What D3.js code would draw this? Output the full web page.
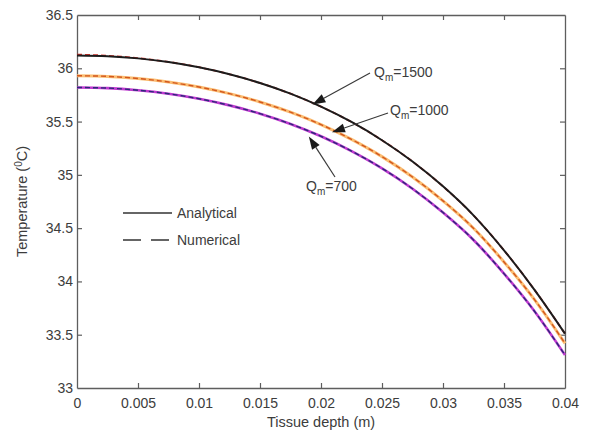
<!DOCTYPE html>
<html>
<head>
<meta charset="utf-8">
<script src="https://cdn.jsdelivr.net/npm/d3@7/dist/d3.min.js"></script>
<style>
  html, body { margin: 0; padding: 0; background: #fff; }
  svg { display: block; }
  text { font-family: "Liberation Sans", Arial, sans-serif; fill: #3c3c3c; }
</style>
</head>
<body>
<svg id="chart" width="594" height="433"></svg>
<script>
// Tissue depth (m)
const depth = [0, 0.0025, 0.005, 0.0075, 0.01, 0.0125, 0.015, 0.0175, 0.02,
               0.0225, 0.025, 0.0275, 0.03, 0.0325, 0.035, 0.0375, 0.04];

// Analytical temperature profiles (°C)
const analytical1500 = [36.120, 36.113, 36.093, 36.059, 36.009, 35.944, 35.862, 35.762, 35.640,
                        35.496, 35.325, 35.125, 34.892, 34.620, 34.292, 33.921, 33.510];
const analytical1000 = [35.930, 35.924, 35.904, 35.871, 35.824, 35.762, 35.684, 35.588, 35.472,
                        35.333, 35.171, 34.980, 34.756, 34.499, 34.183, 33.830, 33.419];
const analytical700  = [35.820, 35.814, 35.794, 35.761, 35.714, 35.652, 35.574, 35.478, 35.362,
                        35.223, 35.061, 34.870, 34.646, 34.389, 34.073, 33.720, 33.309];

// Numerical temperature profiles (°C)
const numerical1500 = [36.128, 36.118, 36.095, 36.060, 36.010, 35.944, 35.862, 35.762, 35.640,
                       35.496, 35.325, 35.125, 34.892, 34.620, 34.292, 33.921, 33.510];
const numerical1000 = [35.930, 35.924, 35.904, 35.871, 35.824, 35.762, 35.684, 35.588, 35.472,
                       35.333, 35.171, 34.980, 34.756, 34.499, 34.183, 33.830, 33.419];
const numerical700  = [35.820, 35.814, 35.794, 35.761, 35.714, 35.652, 35.574, 35.478, 35.362,
                       35.223, 35.061, 34.870, 34.646, 34.389, 34.073, 33.720, 33.309];

const xTicks = [0, 0.005, 0.01, 0.015, 0.02, 0.025, 0.03, 0.035, 0.04];
const yTicks = [33, 33.5, 34, 34.5, 35, 35.5, 36, 36.5];

// Labelled arrows: metabolic heat value, point on curve, label anchor
const annoQ     = ["1500", "1000", "700"];
const annoDepth = [0.0193, 0.0209, 0.0190];
const annoTemp  = [35.66, 35.40, 35.36];

const svg = d3.select("#chart");
const margin = { left: 77, right: 29, top: 15, bottom: 45 };
const W = 594, H = 433;

const x = d3.scaleLinear().domain([0, 0.04]).range([margin.left, W - margin.right]);
const y = d3.scaleLinear().domain([33, 36.5]).range([H - margin.bottom, margin.top]);

const axisColor = "#5e5e5e";
const fmt = d => String(d);

// Frame axes with inward ticks
const gB = svg.append("g").attr("transform", `translate(0,${y(33)})`)
  .call(d3.axisBottom(x).tickValues(xTicks).tickSizeInner(-5).tickSizeOuter(0).tickPadding(10).tickFormat(fmt));
const gT = svg.append("g").attr("transform", `translate(0,${y(36.5)})`)
  .call(d3.axisTop(x).tickValues(xTicks).tickSizeInner(-5).tickSizeOuter(0).tickFormat(""));
const gL = svg.append("g").attr("transform", `translate(${x(0)},0)`)
  .call(d3.axisLeft(y).tickValues(yTicks).tickSizeInner(-5).tickSizeOuter(0).tickPadding(4).tickFormat(fmt));
const gR = svg.append("g").attr("transform", `translate(${x(0.04)},0)`)
  .call(d3.axisRight(y).tickValues(yTicks).tickSizeInner(-5).tickSizeOuter(0).tickFormat(""));

[gB, gT, gL, gR].forEach(g => {
  g.select(".domain").attr("stroke", axisColor).attr("stroke-width", 1.3);
  g.selectAll(".tick line").attr("stroke", axisColor).attr("stroke-width", 1.2);
  g.selectAll(".tick text").attr("font-size", 14).attr("fill", "#4a4a4a")
    .style("font-family", "'Liberation Sans', Arial, sans-serif");
});
// Hide the zero tick marks that would sit on the corners
gB.selectAll(".tick line").filter(d => d === 0 || d === 0.04).remove();
gT.selectAll(".tick line").filter(d => d === 0 || d === 0.04).remove();
gL.selectAll(".tick line").filter(d => d === 33 || d === 36.5).remove();
gR.selectAll(".tick line").filter(d => d === 33 || d === 36.5).remove();

const line = d3.line().x((d, i) => x(depth[i])).y(d => y(d)).curve(d3.curveMonotoneX);

const plot = svg.append("g");

// Qm = 1500
plot.append("path").datum(numerical1500).attr("d", line).attr("fill", "none")
  .attr("stroke", "#d8312a").attr("stroke-width", 1.8).attr("stroke-dasharray", "5,3");
plot.append("path").datum(analytical1500).attr("d", line).attr("fill", "none")
  .attr("stroke", "#1c1c1c").attr("stroke-width", 2);

// Qm = 1000
plot.append("path").datum(analytical1000).attr("d", line).attr("fill", "none")
  .attr("stroke", "#fbbd72").attr("stroke-width", 3);
plot.append("path").datum(numerical1000).attr("d", line).attr("fill", "none")
  .attr("stroke", "#d2571e").attr("stroke-width", 1.4).attr("stroke-dasharray", "5,3");

// Qm = 700
plot.append("path").datum(analytical700).attr("d", line).attr("fill", "none")
  .attr("stroke", "#c03ad0").attr("stroke-width", 2.6);
plot.append("path").datum(numerical700).attr("d", line).attr("fill", "none")
  .attr("stroke", "#2b2a7a").attr("stroke-width", 1.4).attr("stroke-dasharray", "5,3");

// Axis titles
svg.append("text").attr("x", x(0.02)).attr("y", 427).attr("text-anchor", "middle")
  .attr("font-size", 14.5).text("Tissue depth (m)");

const yl = svg.append("text").attr("transform", `translate(27,${y(34.75)}) rotate(-90)`)
  .attr("text-anchor", "middle").attr("font-size", 14.5);
yl.append("tspan").text("Temperature (");
yl.append("tspan").attr("font-size", 10).attr("dy", -5).text("0");
yl.append("tspan").attr("dy", 5).text("C)");

// Legend
const legend = svg.append("g");
legend.append("line").attr("x1", 123).attr("x2", 172).attr("y1", 213).attr("y2", 213)
  .attr("stroke", "#333").attr("stroke-width", 1.3);
legend.append("line").attr("x1", 123).attr("x2", 172).attr("y1", 240).attr("y2", 240)
  .attr("stroke", "#333").attr("stroke-width", 1.3).attr("stroke-dasharray", "18,10");
legend.append("text").attr("x", 177).attr("y", 218).attr("font-size", 14).text("Analytical");
legend.append("text").attr("x", 177).attr("y", 245).attr("font-size", 14).text("Numerical");

// Arrow annotations
const labelPos = [[374, 77], [390, 115], [306, 191]];
const tailPos  = [[370, 73], [388, 113], [335, 177]];
const anno = svg.append("g");
annoQ.forEach((q, i) => {
  const tx = x(annoDepth[i]), ty = y(annoTemp[i]);
  const [sx, sy] = tailPos[i];
  const ang = Math.atan2(ty - sy, tx - sx);
  const len = 13, half = 4.5;
  const bx = tx - len * Math.cos(ang), by = ty - len * Math.sin(ang);
  anno.append("line").attr("x1", sx).attr("y1", sy).attr("x2", bx).attr("y2", by)
    .attr("stroke", "#3a3a3a").attr("stroke-width", 1.2);
  const px = -Math.sin(ang) * half, py = Math.cos(ang) * half;
  anno.append("path")
    .attr("d", `M${tx},${ty}L${bx + px},${by + py}L${bx - px},${by - py}Z`)
    .attr("fill", "#1a1a1a");
  const t = anno.append("text").attr("x", labelPos[i][0]).attr("y", labelPos[i][1]).attr("font-size", 14);
  t.append("tspan").text("Q");
  t.append("tspan").attr("font-size", 10).attr("dy", 4).text("m");
  t.append("tspan").attr("dy", -4).text("=" + q);
});
</script>
</body>
</html>
